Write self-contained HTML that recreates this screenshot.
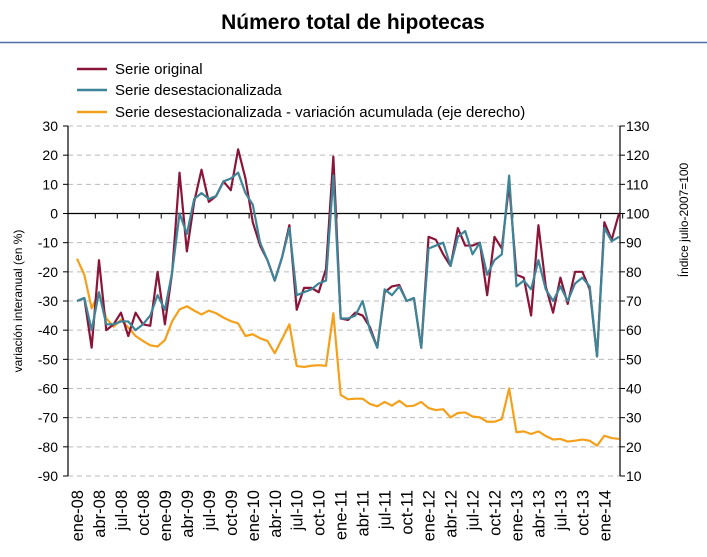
<!DOCTYPE html>
<html><head><meta charset="utf-8"><style>
body{margin:0;background:#fff;font-family:"Liberation Sans",sans-serif;}
svg{display:block}
</style></head><body>
<svg id="c" width="707" height="557" xmlns="http://www.w3.org/2000/svg" font-family="Liberation Sans, sans-serif">
<text x="353" y="29" text-anchor="middle" font-size="21" font-weight="bold">Número total de hipotecas</text>
<line x1="0" y1="42.5" x2="707" y2="42.5" stroke="#4f6fa8" stroke-width="1.5"/>
<g font-size="15">
<g><line x1="77" y1="69" x2="107" y2="69" stroke="#8b1538" stroke-width="2.5"/><text x="115" y="74">Serie original</text></g>
<g><line x1="77" y1="90" x2="107" y2="90" stroke="#3e8598" stroke-width="2.5"/><text x="115" y="95">Serie desestacionalizada</text></g>
<g><line x1="77" y1="112" x2="107" y2="112" stroke="#f5a01a" stroke-width="2.5"/><text x="115" y="117">Serie desestacionalizada - variación acumulada (eje derecho)</text></g>
</g>
<g id="plot"></g>
<text transform="translate(22,301) rotate(-90)" text-anchor="middle" font-size="12">variación interanual (en %)</text>
<text transform="translate(688,220) rotate(-90)" text-anchor="middle" font-size="12">Índice julio-2007=100</text>
</svg>
<script>
const months=["ene","feb","mar","abr","may","jun","jul","ago","sep","oct","nov","dic"];
const original=[-30,-29,-46,-16,-40,-38,-34,-42,-34,-38,-38.5,-20,
-38,-20,14,-13,4,15,4,6,11,8,22,12,
-3,-11,-16,-23,-15,-4,-33,-25.5,-25.5,-27,-19,19.5,
-36,-36.5,-34,-35,-39,-46,-27,-25,-24.5,-30,-29,-46,
-8,-9,-14,-18,-5,-11,-11,-10,-28,-8,-12,10,
-21,-22,-35,-4,-25,-34,-22,-31,-20,-20,-26,-49,
-3,-9,0];
const desest=[-30,-29,-40,-27,-38,-38,-37,-37,-40,-38,-35,-28,
-33,-20,0,-7,5,7,5,6,11,12,14,7,
3,-10,-16,-23,-15,-5,-28,-27,-26,-24,-23,13,
-36,-36,-35,-30,-40,-46,-26,-28,-25,-30,-29,-46,
-12,-11,-10,-18,-8,-6,-14,-10,-21,-16,-14,13,
-25,-23,-26,-16,-26,-30,-25,-30,-24,-22,-25,-49,
-5,-9.5,-8];
const acumulada=[84.5,79,67.5,72.8,64,61.2,63.5,60.9,58,56.3,54.8,54.4,
56.6,63.1,67.1,68.2,66.7,65.4,66.7,65.8,64.3,63.1,62.3,58,
58.6,57.2,56.3,52.1,57,62,47.7,47.4,47.8,48,47.8,65.8,
37.8,36.3,36.5,36.5,34.7,33.9,35.4,34.1,35.8,33.9,34.1,35.4,
33.3,32.6,32.9,30.1,31.6,31.8,30.4,30.1,28.6,28.6,29.5,40,
25,25.3,24.4,25.3,23.7,22.5,22.7,21.8,22.1,22.5,22.1,20.4,
23.8,23,22.7];
const leftTicks=[30,20,10,0,-10,-20,-30,-40,-50,-60,-70,-80,-90];
const rightTicks=[130,120,110,100,90,80,70,60,50,40,30,20,10];

const NS="http://www.w3.org/2000/svg";
const g=document.getElementById('plot');
const X0=68,X1=620,T=126,B=476;
const step=(619-77)/(original.length-1);
const xs=i=>77+step*i;
const yL=v=>T+(30-v)*(B-T)/120;
const yR=v=>T+(130-v)*(B-T)/120;
function mk(tag,attrs){const e=document.createElementNS(NS,tag);for(const k in attrs)e.setAttribute(k,attrs[k]);g.appendChild(e);return e;}

leftTicks.forEach(v=>{
 if(v!==0){const l=mk('line',{x1:X0,x2:X1,y1:yL(v),y2:yL(v),stroke:'#bbb','stroke-dasharray':'5,4'});
 
 }
 const t=mk('text',{x:58,y:yL(v)+5,'text-anchor':'end','font-size':14});t.textContent=v;
 
 
 mk('line',{x1:X0-5,x2:X0,y1:yL(v),y2:yL(v),stroke:'#000'});
});
rightTicks.forEach(v=>{
 const t=mk('text',{x:626,y:yR(v)+5,'font-size':14});t.textContent=v;
 
 
 mk('line',{x1:X1,x2:X1+5,y1:yR(v),y2:yR(v),stroke:'#000'});
});
const la=mk('line',{x1:X0,x2:X0,y1:T,y2:B,stroke:'#000','stroke-width':1.2});


const ra=mk('line',{x1:X1,x2:X1,y1:T,y2:B,stroke:'#000','stroke-width':1.2});


const za=mk('line',{x1:X0,x2:X1,y1:yL(0),y2:yL(0),stroke:'#000','stroke-width':1.2});


for(let i=2.5;i<original.length;i+=3){mk('line',{x1:xs(i),x2:xs(i),y1:yL(0),y2:yL(0)+5,stroke:'#000'});}
for(let i=0;i<original.length;i+=3){
 const lbl=months[i%12]+'-'+String(8+Math.floor(i/12)).padStart(2,'0');
 const t=mk('text',{transform:`translate(${xs(i)+6},490) rotate(-90)`,'text-anchor':'end','font-size':16.5});t.textContent=lbl;
 
 
}
function line(arr,fy,color,name){
 const p=mk('polyline',{points:arr.map((v,i)=>xs(i)+','+fy(v)).join(' '),fill:'none',stroke:color,'stroke-width':2.2,'stroke-linejoin':'round'});
 
 
}
line(acumulada,yR,'#f5a01a','series-acumulada');
line(original,yL,'#8b1538','series-original');
line(desest,yL,'#3e8598','series-desestacionalizada');
</script>
</body></html>
